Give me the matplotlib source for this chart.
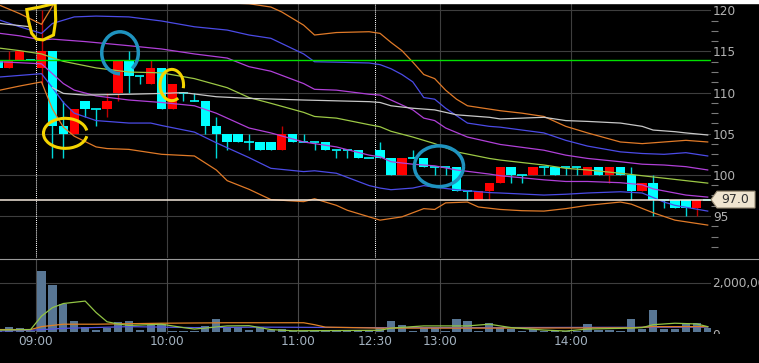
import numpy as np
import matplotlib
matplotlib.use("Agg")
import matplotlib.pyplot as plt
from matplotlib.patches import Arc, Polygon, Rectangle
from matplotlib.lines import Line2D
from matplotlib.transforms import Bbox, TransformedBbox

plt.rcParams['font.family'] = ['DejaVu Sans']

# 5-minute bars, index 0 = 09:00 (previous day's last bars are negative)
idx = list(range(-4, 62))
opens = [114,113,114,114,113,115,106,105,109,108, 108,110,114,112,111,113,108,110,109,109,
         106,105,105,104,104,104,103,105,104,104, 104,103,103,103,102,103,102,100,102,102,
         101,101,101,98,97,98,99,101,100,100, 101,101,101,101,100,101,100,101,100,98,
         99,97,97,97,96,97]
highs = [114,115,115,114,120,115,109,108,109,108, 110,114,115,112,114,113,111,110,110,109,
         107,105,105,105,104,104,106,105,105,104, 104,103,103,103,102,104,102,102,103,102,
         101,101,101,98,98,99,101,101,100,101, 101,101,101,101,101,101,101,101,101,99,
         100,97,97,97,97,97]
lows = [113,113,114,114,111,102,102,105,107,106, 107,109,110,111,111,108,108,109,109,105,
        102,103,104,103,103,103,103,104,104,103, 103,102,102,102,102,102,100,100,102,101,
        100,100,98,97,97,97,99,99,99,100, 100,100,100,100,100,100,99,100,97,98,
        95,96,96,95,95,97]
closes = [113,114,115,114,115,106,105,108,108,108, 109,114,112,112,113,108,111,110,109,106,
          105,104,104,104,103,103,105,104,104,104, 103,103,103,102,102,102,100,102,102,101,
          101,101,98,98,98,99,101,100,100,101, 101,100,101,101,101,100,101,100,98,99,
          97,97,96,96,97,97]
# volume in millions of shares
volume = [0.05,0.22,0.15,0.05,2.5,1.94,1.15,0.45,0.22,0.1, 0.18,0.4,0.46,0.08,0.29,0.31,0.05,0.03,0.03,0.26,
          0.53,0.22,0.2,0.08,0.2,0.08,0.12,0.05,0.04,0.04, 0.06,0.03,0.03,0.05,0.04,0.2,0.46,0.29,0.06,0.2,
          0.15,0.06,0.52,0.44,0.04,0.38,0.22,0.12,0.04,0.12, 0.05,0.03,0.05,0.05,0.32,0.08,0.07,0.03,0.53,0.12,
          0.9,0.12,0.12,0.36,0.36,0.15]

prev_close = 114
last_price = 97.0

# band lines (bar index, price)
ou_x = [-3.8,-2,0,1,2,8,13,15,19,21,22,24,25,27,30,31,32,33,34,35,36,37,38,39,41,42,44,46,48,50,53,55,57,59,61]
ou_y = [120.6,119.6,118.3,120.5,123.0,123.5,121.3,121.0,120.8,120.4,119.8,118.2,117.0,117.3,117.4,117.2,116.1,115.1,113.7,112.2,
        111.7,110.3,109.2,108.4,108.0,107.8,107.5,107.1,105.9,105.1,104.0,103.8,104.0,104.2,104.0]
bu_x = [-3.8,-2,0,1,3,5,8,11,14,17,19,21,24,25,27,30,31,32,33,34,35,36,37,39,41,42,46,48,50,53,55,57,59,61]
bu_y = [118.8,118.0,117.2,118.4,119.2,119.3,119.2,118.7,118.0,117.6,117.0,116.6,114.7,113.75,113.7,113.6,113.4,112.9,112.2,111.3,
        109.4,109.2,108.1,106.3,105.9,105.8,105.1,104.2,103.5,102.8,102.6,102.5,102.7,102.3]
pu_x = [-3.8,-2,0,1,4,8,11,14,17,19,21,24,25,27,30,31,32,34,35,36,37,39,41,42,46,48,50,53,55,57,59,61]
pu_y = [117.2,116.9,116.4,116.5,116.2,115.7,115.3,114.7,114.2,113.15,112.6,111.1,110.4,110.3,109.8,109.7,109.1,107.9,106.9,106.6,
        105.7,104.6,104.0,103.7,103.0,102.4,102.0,101.6,101.3,101.2,101.0,100.6]
mid_x = [-3.8,-2,0,2,5,8,11,14,17,19,21,24,25,27,30,31,32,34,36,38,41,42,46,48,50,53,55,57,59,61]
mid_y = [115.4,115.1,114.7,113.8,113.0,112.5,112.4,111.7,110.6,109.4,108.7,107.6,107.1,106.9,106.1,105.85,105.3,104.6,103.8,102.8,
         102.0,101.8,101.2,100.8,100.6,100.2,99.9,99.6,99.3,99.0]
pl_x = [-3.8,0,1,2,3,5,8,11,14,16,19,21,24,25,27,30,31,32,34,36,38,41,42,46,48,50,53,55,56,58,59,61]
pl_y = [113.75,113.5,112.3,111.1,110.3,109.6,109.1,108.8,108.4,107.5,105.7,105.1,104.0,103.8,103.4,102.4,102.2,101.6,101.3,101.1,
        100.6,100.1,99.9,99.4,99.2,99.2,99.05,98.8,98.3,97.8,97.55,97.3]
bl_x = [-3.8,0,1,2,3,5,8,10,11,14,16,19,21,24,25,27,30,31,32,34,35,36,38,41,42,46,48,50,53,55,57,58,61]
bl_y = [111.9,112.3,110.6,108.8,107.5,106.6,106.3,106.3,106.0,105.2,103.9,102.1,100.8,100.4,100.5,100.2,98.7,98.4,98.2,98.4,
        98.7,98.5,98.2,97.85,97.8,97.55,97.65,97.8,97.95,97.8,96.7,96.3,95.6]
ol_x = [-3.8,-2,0,1,2,3,5,6,8,11,14,16,17,19,21,24,25,27,28,30,31,33,35,36,37,39,40,42,44,46,48,50,53,54,56,58,59,61]
ol_y = [110.3,110.8,111.3,108.0,105.8,104.7,103.4,103.2,103.1,102.5,102.3,100.6,99.3,98.25,97.0,96.75,97.1,96.3,95.7,94.9,
        94.5,94.9,95.9,95.8,96.6,96.7,96.1,95.8,95.65,95.6,95.9,96.3,96.7,96.45,95.4,94.5,94.3,93.9]
vwap_prev_x = [-3.8, -1]
vwap_prev_y = [118.4, 118.0]
vwap_x = [1,2,4,8,11,13,16,19,24,30,31,32,34,36,38,41,42,46,48,50,53,55,56,58,59,61]
vwap_y = [110.6,109.9,109.7,109.8,109.9,110.0,109.5,109.3,109.1,108.9,108.8,108.4,108.1,107.9,107.3,107.0,106.8,107.0,106.6,106.5,
          106.3,105.9,105.45,105.25,105.1,104.85]

# volume moving averages (millions)
vg_x = [-3.8,-1,0,1,2,4,5,6,7,8,11,13,14,17,19,21,23,31,32,35,39,41,43,46,48,50,53,55,56,58,60,61]
vg_y = [0.08,0.1,0.65,1.0,1.17,1.27,0.8,0.42,0.33,0.27,0.32,0.18,0.12,0.25,0.26,0.1,0.05,0.07,0.16,0.25,
        0.25,0.32,0.18,0.08,0.04,0.12,0.15,0.18,0.3,0.36,0.33,0.22]
vo_x = [-3.8,-1,0,2,5,11,17,24,25,26,31,40,54,56,61]
vo_y = [0.1,0.1,0.22,0.32,0.32,0.36,0.38,0.38,0.3,0.2,0.16,0.16,0.17,0.22,0.22]
vb_x = [-3.8,-1,2,8,14,20,30,40,50,61]
vb_y = [0.04,0.07,0.15,0.22,0.18,0.2,0.18,0.18,0.19,0.2]

time_pos = [-0.5, 11.5, 23.5, 30.5, 36.5, 48.5]
time_labels = ['09:00', '10:00', '11:00', '12:30', '13:00', '14:00']
session_starts = ['09:00', '12:30']

price_ticks = [95, 100, 105, 110, 115, 120]

# hand-drawn marks on the screenshot, in (bar index, price)
flag_mark = [(-1.35,120.1),(-1.2,118.8),(-0.9,117.2),(-0.45,116.5),(0.15,116.4),(1.1,117.0),
             (1.3,118.8),(1.25,120.85),(-0.15,120.4)]
yellow_rings = [((2.18,105.05), 4.0, 3.65, 10, 350), ((11.93,110.92), 2.15, 3.8, -20, 290)]
teal_rings = [((7.19,114.84), 3.35, 5.1, -60, 270), ((36.39,101.05), 4.5, 4.95, 0, 360)]

W, H = 759, 363
def fx(px):
    return px / W
def fy(py):
    return 1 - py / H

fig = plt.figure(figsize=(W/100, H/100), dpi=100, facecolor='black')
lab_col = '#b2b2b2'
grid_col = '#3e3e3e'
fs = 8.7

# ---- price panel
ax = fig.add_axes([0, fy(258), fx(711), (258-3)/H])
ax.set_facecolor('black')
ax.set_xlim(-3.8, 61.3)
ax.set_ylim(89.9, 120.89)
for s in ax.spines.values():
    s.set_visible(False)
ax.set_axisbelow(True)
ax.yaxis.tick_right()
ax.set_yticks(price_ticks)
ax.set_yticklabels([str(v) for v in price_ticks])
minor = [v for v in np.arange(90, 121.1, 1.25) if v % 5 != 0]
ax.set_yticks(minor, minor=True)
ax.tick_params(axis='y', which='major', length=0, pad=1.5, labelsize=fs, labelcolor=lab_col)
ax.tick_params(axis='y', which='minor', length=5, width=0.8, color='#7a7a7a')
ax.tick_params(axis='x', bottom=False, labelbottom=False)
ax.yaxis.grid(True, color=grid_col, lw=0.8)

for t, lab in zip(time_pos, time_labels):
    if lab in session_starts:
        ax.axvline(t, color='white', lw=0.75, ls=(0, (1, 1)), zorder=1)
    else:
        ax.axvline(t, color=grid_col, lw=0.8, zorder=1)

x = np.array(idx)
o, h, l, c = (np.array(a, dtype=float) for a in (opens, highs, lows, closes))
up = c > o
dn = c < o
eq = c == o
ax.vlines(x, l, h, colors=np.where(up, '#c00000', '#00d8d8'), lw=1.0, zorder=2)
ax.bar(x[up], (c - o)[up], bottom=o[up], width=0.86, color='#ff0000', zorder=3)
ax.bar(x[dn], (o - c)[dn], bottom=c[dn], width=0.86, color='#00ffff', zorder=3)
ax.hlines(o[eq], x[eq] - 0.43, x[eq] + 0.43, colors='#00ffff', lw=1.2, zorder=3)

lw = 0.9
ax.plot(ou_x, ou_y, color='#e07a28', lw=lw, zorder=4)
ax.plot(ol_x, ol_y, color='#e07a28', lw=lw, zorder=4)
ax.plot(bu_x, bu_y, color='#4b4be6', lw=lw, zorder=4)
ax.plot(bl_x, bl_y, color='#4b4be6', lw=lw, zorder=4)
ax.plot(pu_x, pu_y, color='#b040d8', lw=lw, zorder=4)
ax.plot(pl_x, pl_y, color='#b040d8', lw=lw, zorder=4)
ax.plot(mid_x, mid_y, color='#9cc845', lw=lw, zorder=4)
ax.plot(vwap_prev_x, vwap_prev_y, color='#c8c8c8', lw=lw, zorder=4)
ax.plot(vwap_x, vwap_y, color='#c8c8c8', lw=lw, zorder=4)
ax.axhline(prev_close, color='#00e000', lw=1.0, zorder=4.5)
ax.axhline(last_price, color='#f3e7da', lw=1.1, zorder=4.5)

ax.add_patch(Polygon(flag_mark, closed=True, fill=False, ec='#f4d400', lw=2.2, zorder=6, clip_on=False))
for (cx, w, hh, t1, t2) in yellow_rings:
    ax.add_patch(Arc(cx, w, hh, theta1=t1, theta2=t2, ec='#f4d400', lw=2.2, zorder=6))
for (cx, w, hh, t1, t2) in teal_rings:
    ax.add_patch(Arc(cx, w, hh, theta1=t1, theta2=t2, ec='#1f93bf', lw=2.5, zorder=6))

# last price tag
yl = fig.transFigure.inverted().transform(ax.transData.transform((0, last_price)))[1]
dy = 8.4 / H
tag = [(fx(711), yl), (fx(717), yl + dy), (fx(755), yl + dy), (fx(755), yl - dy), (fx(717), yl - dy)]
fig.add_artist(Polygon(tag, closed=True, fc='#efe4cf', ec='#9c8f78', lw=0.8, transform=fig.transFigure))
fig.text(fx(735.5), yl, f'{last_price:.1f}', ha='center', va='center', color='#333333', fontsize=fs + 0.3)

# ---- volume panel
axv = fig.add_axes([0, fy(333.5), fx(711), (333.5-260)/H])
axv.set_facecolor('black')
axv.set_xlim(-3.8, 61.3)
axv.set_ylim(-1.5/24.35*1e6, 72/24.35*1e6)
for s in axv.spines.values():
    s.set_visible(False)
axv.axhline(2e6, color=grid_col, lw=0.8, zorder=1)
for t in time_pos:
    axv.axvline(t, color='#4a4a4a', lw=0.8, zorder=1)
vol = np.array(volume) * 1e6
axv.bar(x, vol, width=0.76, color='#587694', zorder=2)
axv.plot(vb_x, np.array(vb_y) * 1e6, color='#5555e0', lw=0.9, zorder=3)
axv.plot(vo_x, np.array(vo_y) * 1e6, color='#e08024', lw=0.9, zorder=3)
axv.plot(vg_x, np.array(vg_y) * 1e6, color='#92c444', lw=0.9, zorder=3)
axv.set_yticks([])
axv.set_xticks(time_pos)
axv.set_xticklabels(time_labels)
axv.tick_params(axis='x', length=0, pad=0.8, labelsize=fs, labelcolor='#a3b2c0')

fig.text(fx(712.5), fy(283), '2,000,000', ha='left', va='center', color=lab_col, fontsize=fs)
zero = fig.text(fx(712.5), fy(335.5), '0', ha='left', va='center', color=lab_col, fontsize=fs)
zero.set_clip_box(TransformedBbox(Bbox([[fx(711), fy(333.5)], [1, fy(260)]]), fig.transFigure))
zero.set_clip_on(True)

# frame details
fig.add_artist(Line2D([0, 1], [fy(259), fy(259)], color='#9a9a9a', lw=0.8, transform=fig.transFigure))
fig.add_artist(Rectangle((0, fy(3)), 1, 3 / H, color='white', transform=fig.transFigure))

fig.savefig('out.png', dpi=100, facecolor='black')
